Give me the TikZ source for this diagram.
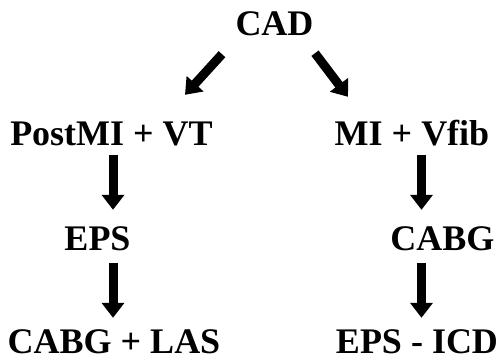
\documentclass[tikz,border=0pt]{standalone}
\usepackage{fontspec}
\setmainfont{Liberation Serif}
\usetikzlibrary{arrows.meta,calc}
\begin{document}
\begin{tikzpicture}[x=1pt,y=1pt,
  lbl/.style={anchor=base,inner sep=0pt,text height=24pt,text depth=0pt,
    font=\fontsize{36}{43}\selectfont\bfseries},
  big/.style={line width=9pt,-{Triangle[width=22pt,length=15pt]}}]
\useasboundingbox (0,0) rectangle (499,-362);
\node[lbl] (cad) at (274.5,-35) {CAD};
\node[lbl] (pmi) at (111.5,-145) {PostMI + VT};
\node[lbl] (mi) at (412,-145) {MI + Vfib};
\node[lbl] (eps) at (97.5,-250) {EPS};
\node[lbl] (cabg) at (442.5,-250) {CABG};
\node[lbl] (las) at (114,-353) {CABG + LAS};
\node[lbl] (icd) at (417,-353) {EPS - ICD};
\draw[big] ($(cad.south)+(-52.5,-19)$) -- ($(pmi.north)+(73.5,26)$);
\draw[big] ($(cad.south)+(40.5,-18)$) -- ($(mi.north)+(-64,24)$);
\draw[big,shorten <=10pt,shorten >=16pt] ([xshift=1.5pt]pmi.south) -- ([xshift=1.5pt]pmi.south |- eps.north);
\draw[big,shorten <=13pt,shorten >=11pt] ([xshift=15.5pt]eps.south) -- ([xshift=15.5pt]eps.south |- las.north);
\draw[big,shorten <=10pt,shorten >=16pt] ([xshift=9.5pt]mi.south) -- ([xshift=9.5pt]mi.south |- cabg.north);
\draw[big,shorten <=13pt,shorten >=11pt] ([xshift=-21pt]cabg.south) -- ([xshift=-21pt]cabg.south |- icd.north);
\end{tikzpicture}
\end{document}
